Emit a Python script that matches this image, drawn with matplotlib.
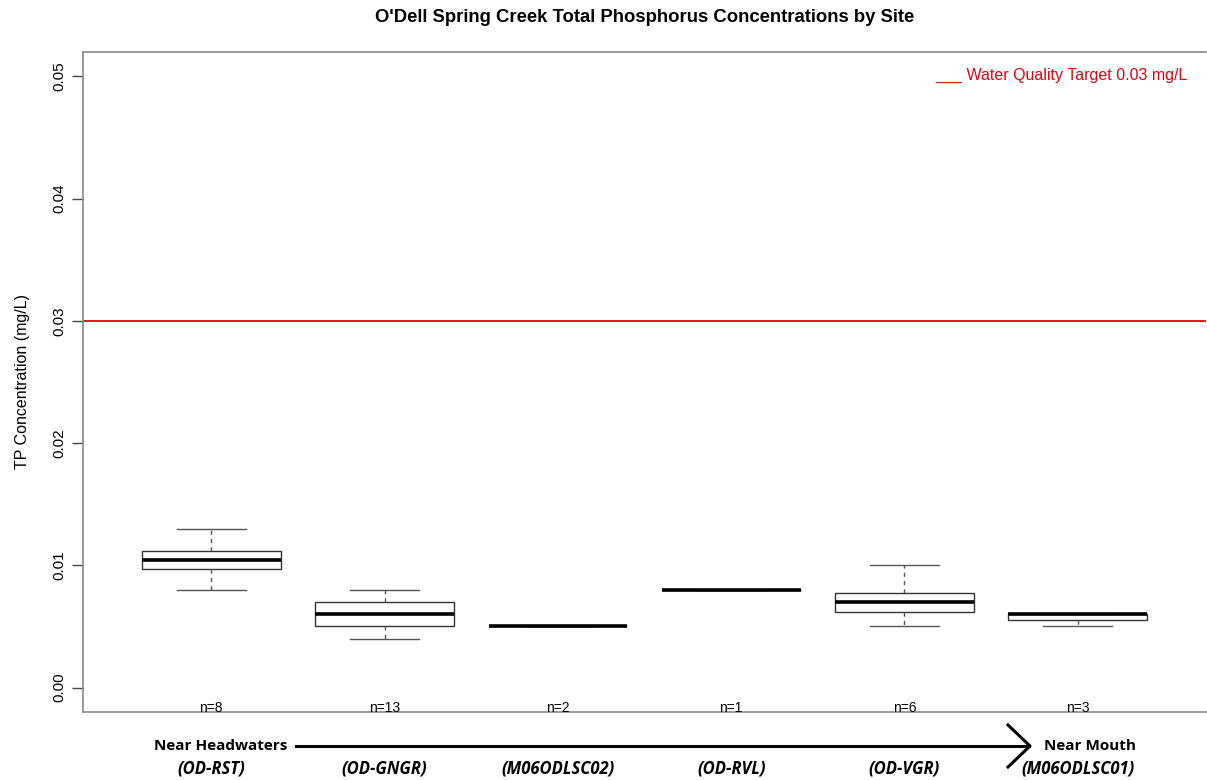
import matplotlib.pyplot as plt
import matplotlib.transforms as mtransforms

# box statistics (mg/L)
sites = ["(OD-RST)", "(OD-GNGR)", "(M06ODLSC02)", "(OD-RVL)", "(OD-VGR)", "(M06ODLSC01)"]
n_obs = [8, 13, 2, 1, 6, 3]
whis_lo = [0.008, 0.004, 0.005, 0.008, 0.005, 0.005]
q1 = [0.0097, 0.005, 0.005, 0.008, 0.0062, 0.0055]
med = [0.0104, 0.006, 0.005, 0.008, 0.0070, 0.006]
q3 = [0.0112, 0.007, 0.005, 0.008, 0.0077, 0.006]
whis_hi = [0.013, 0.008, 0.005, 0.008, 0.010, 0.006]
target = 0.03

plt.rcParams["font.family"] = ["Liberation Sans", "DejaVu Sans"]

fig = plt.figure(figsize=(12.07, 7.80), dpi=100)
ax = fig.add_axes([0.0688, 0.0872, 0.9304, 0.8462])

stats = []
for i in range(len(sites)):
    stats.append({"whislo": whis_lo[i], "q1": q1[i], "med": med[i],
                  "q3": q3[i], "whishi": whis_hi[i], "fliers": []})

pos = list(range(1, len(sites) + 1))
ax.bxp(stats, positions=pos, widths=0.8, showfliers=False, patch_artist=True,
       boxprops=dict(facecolor="white", edgecolor="#333333", linewidth=1.0),
       medianprops=dict(color="black", linewidth=2.6),
       whiskerprops=dict(color="#555555", linewidth=1.0, linestyle=(0, (3, 3))),
       capprops=dict(color="#555555", linewidth=1.0), capwidths=0.4)

ax.axhline(target, color="#e8000b", linewidth=1.3, zorder=0)

ax.set_xlim(0.26, 6.74)
ax.set_ylim(-0.002, 0.052)
ax.set_yticks([0.0, 0.01, 0.02, 0.03, 0.04, 0.05])
ax.set_yticklabels(["0.00", "0.01", "0.02", "0.03", "0.04", "0.05"],
                   rotation=90, va="center", fontsize=11)
ax.tick_params(axis="y", length=8, width=1, color="#444444", pad=4)
ax.set_xticks([])
ax.set_ylabel("TP Concentration (mg/L)", fontsize=11.5, labelpad=16)
for s in ["left", "bottom", "top"]:
    ax.spines[s].set_color("#888888")
    ax.spines[s].set_linewidth(1.2)
ax.spines["right"].set_visible(False)

for i, n in enumerate(n_obs):
    ax.text(pos[i], -0.00165, "n=%d" % n, ha="center", va="center", fontsize=10)

ax.text(0.9835, 0.965, "___ Water Quality Target 0.03 mg/L", transform=ax.transAxes,
        ha="right", va="center", color="#e8000b", fontsize=11.5)

# title centred over the plotting region, as R does it
trans = mtransforms.blended_transform_factory(ax.transAxes, fig.transFigure)
ax.text(0.5, 1 - 18 / 780, "O'Dell Spring Creek Total Phosphorus Concentrations by Site",
        transform=trans, ha="center", va="center", fontsize=13.3, fontweight="bold")

# site names and the upstream -> downstream arrow below the axis
for i, name in enumerate(sites):
    xf = ax.transData.transform((pos[i], 0))[0] / fig.bbox.width
    fig.text(xf, 1 - 769 / 780, name, ha="center", va="center", fontsize=12,
             fontweight="bold", style="italic", family=["Open Sans", "DejaVu Sans"])
fig.text(287 / 1207, 1 - 746 / 780, "Near Headwaters", ha="right", va="center",
         fontsize=11, fontweight="bold", family=["Open Sans", "DejaVu Sans"])
fig.text(1090 / 1207, 1 - 746 / 780, "Near Mouth", ha="center", va="center",
         fontsize=11, fontweight="bold", family=["Open Sans", "DejaVu Sans"])
fig.add_artist(plt.Line2D([296 / 1207, 1029 / 1207], [1 - 746 / 780, 1 - 746 / 780],
                          color="black", linewidth=2.2))
fig.add_artist(plt.Line2D([1008 / 1207, 1030 / 1207, 1008 / 1207],
                          [1 - 725 / 780, 1 - 746 / 780, 1 - 767 / 780],
                          color="black", linewidth=2.2))

plt.savefig("out.png", dpi=100)
